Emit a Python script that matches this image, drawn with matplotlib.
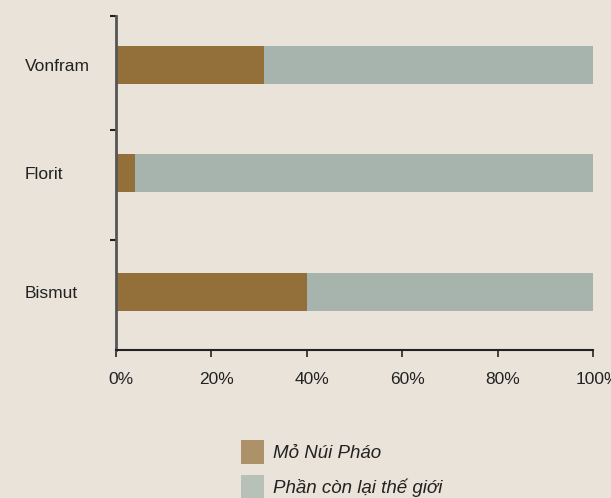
import matplotlib
matplotlib.use("Agg")
import matplotlib.pyplot as plt
from matplotlib.patches import Patch
from matplotlib.transforms import ScaledTranslation

plt.rcParams['font.family'] = ['Liberation Sans', 'DejaVu Sans']

categories = ["Vonfram", "Florit", "Bismut"]
nui_phao = [31, 4, 40]
rest_world = [69, 96, 60]
xticks = [0, 20, 40, 60, 80, 100]
xtick_labels = ["0%", "20%", "40%", "60%", "80%", "100%"]
series_labels = ["Mỏ Núi Pháo", "Phần còn lại thế giới"]

bg = "#e9e3d9"
c_brown = "#936f3a"
c_gray = "#a6b4ad"

fig = plt.figure(figsize=(6.11, 4.98), dpi=100, facecolor=bg)
ax = fig.add_axes([116/611, 148/498, 477/611, 334/498])
ax.set_facecolor(bg)

ypos = [2, 1.05, 0]
h = 0.335
ax.barh(ypos, nui_phao, height=h, color=c_brown, linewidth=0)
ax.barh(ypos, rest_world, left=nui_phao, height=h, color=c_gray, linewidth=0)

ax.set_xlim(0, 100)
ax.set_ylim(-0.511, 2.432)
ax.set_xticks(xticks)
ax.set_xticklabels(xtick_labels, fontsize=12.5, color="#222222")
ax.tick_params(axis='x', length=5, width=1.3, color="#333333", pad=11, direction='out')
for lab in ax.get_xticklabels():
    lab.set_transform(lab.get_transform() + ScaledTranslation(5/100, 0, fig.dpi_scale_trans))

ax.set_yticks(ypos)
ax.set_yticklabels(categories, fontsize=12.5, color="#222222", ha='left')
ax.tick_params(axis='y', which='major', length=0, pad=65.5)
ax.set_yticks([0.458, 1.427, 2.43], minor=True)
ax.tick_params(axis='y', which='minor', length=4, width=1.5, color="#222222", direction='out')

for s in ['top', 'right']:
    ax.spines[s].set_visible(False)
ax.spines['left'].set_color("#555555")
ax.spines['left'].set_linewidth(2)
ax.spines['bottom'].set_color("#222222")
ax.spines['bottom'].set_linewidth(1.5)

handles = [Patch(facecolor="#ad9169", edgecolor='none'),
           Patch(facecolor="#b7c1b8", edgecolor='none')]
leg = fig.legend(handles, series_labels, loc='upper left',
                 bbox_to_anchor=(237/611, 1 - 436/498), frameon=False,
                 prop={'size': 13.5, 'style': 'italic'},
                 handlelength=1.23, handleheight=1.58, handletextpad=0.5,
                 labelspacing=0.62, borderaxespad=0, borderpad=0.2)
for t in leg.get_texts():
    t.set_color("#222222")

fig.savefig("out.png", dpi=100, facecolor=bg)
